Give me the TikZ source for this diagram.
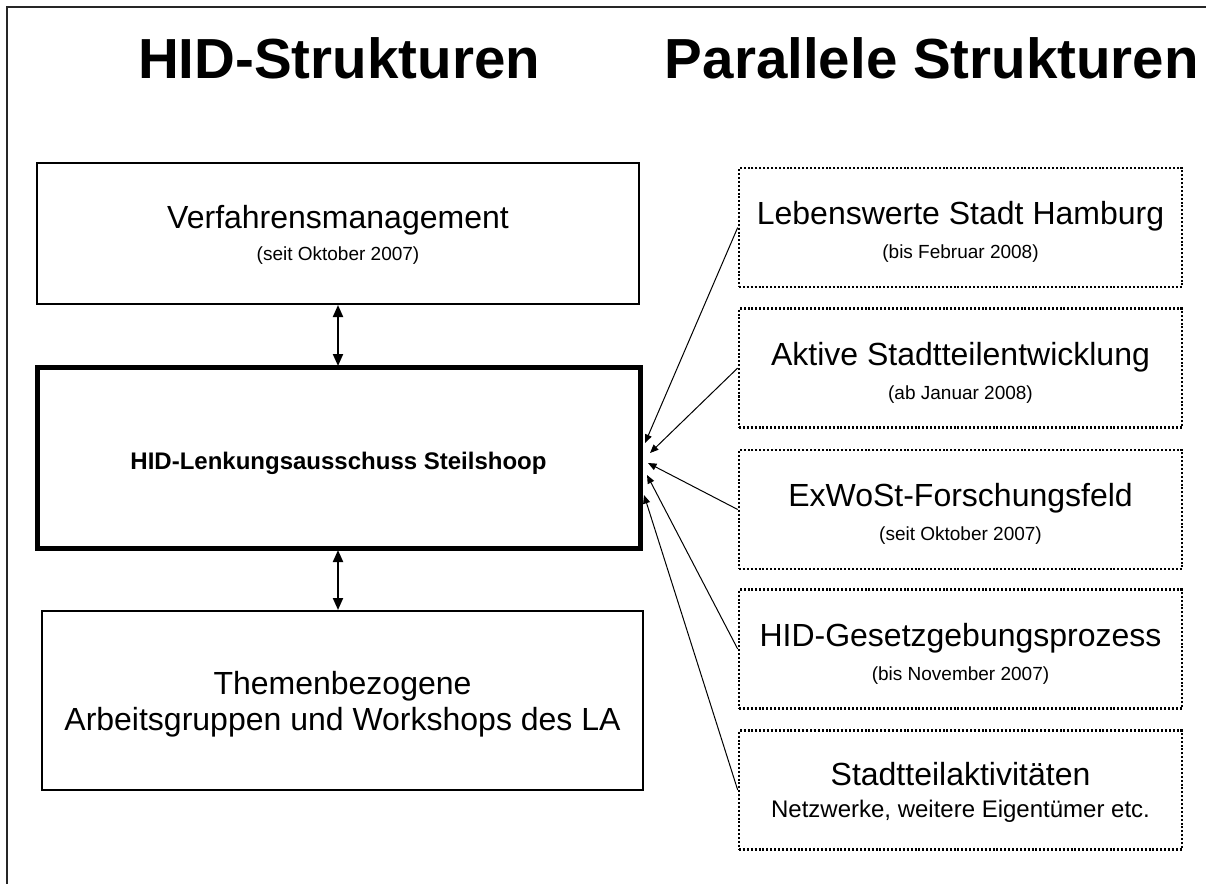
\documentclass[tikz,border=0pt]{standalone}
\usepackage{fontspec}
\setmainfont{Liberation Sans}
\usetikzlibrary{arrows.meta,calc}
\begin{document}
\begin{tikzpicture}[x=1pt,y=-1pt,
  titletext/.style={font=\bfseries\fontsize{56.5}{62}\selectfont, inner sep=0pt},
  bigtext/.style={font=\fontsize{32}{36}\selectfont, inner sep=0pt, anchor=base},
  smalltext/.style={font=\fontsize{19}{22}\selectfont, inner sep=0pt, anchor=base},
  midtext/.style={font=\fontsize{24}{28}\selectfont, inner sep=0pt, anchor=base},
  boldtext/.style={font=\bfseries\fontsize{24}{28}\selectfont, inner sep=0pt, anchor=base},
  solidbox/.style={draw=black, line width=2.5pt, minimum width=602pt, inner sep=0pt},
  thickbox/.style={draw=black, line width=5pt, minimum width=603pt, minimum height=181pt, inner sep=0pt},
  dotbox/.style={draw=black, line width=2.6pt, dash pattern=on 2pt off 1.9pt, minimum width=443pt, minimum height=119pt, inner sep=0pt},
  link/.style={draw=black, line width=1pt, -{Triangle[length=8.5pt,width=7pt]}},
  dlink/.style={draw=black, line width=2pt, {Triangle[length=12pt,width=10pt]}-{Triangle[length=12pt,width=10pt]}}
]
\useasboundingbox (0,0) rectangle (1206,883);
\fill[white] (0,0) rectangle (1206,883);
\draw[line width=1.5pt, black!85] (7,884) -- (7,7) -- (1207,7);

% titles
\node[titletext, anchor=base west] (t1) at (138,78) {HID-Strukturen};
\node[titletext, anchor=base east] (t2) at (1199,78) {Parallele Strukturen};

% left column
\node[solidbox, minimum height=141pt] (vm) at (338,233.5) {};
\node[bigtext] (vm1) at ($(vm.center)+(0,-5)$) {Verfahrensmanagement};
\node[smalltext] (vm2) at ($(vm.center)+(0,27)$) {(seit Oktober 2007)};

\node[thickbox] (la) at (338.5,457.5) {};
\node[boldtext] (la1) at ($(la.center)+(0,12)$) {HID-Lenkungsausschuss Steilshoop};

\node[solidbox, minimum height=179pt, minimum width=601pt] (ag) at (342.5,700.5) {};
\node[bigtext] (ag1) at ($(ag.center)+(0,-6)$) {Themenbezogene};
\node[bigtext] (ag2) at ($(ag.center)+(0,30)$) {Arbeitsgruppen und Workshops des LA};

\draw[dlink] (338,305) coordinate (vmb) -- (338,366) coordinate (lat);
\draw[dlink] (338,550) coordinate (lab) -- (338,610) coordinate (agt);

% right column
\node[dotbox] (pa) at (960.5,227.5) {};
\node[bigtext] (pa1) at ($(pa.center)+(0,-3)$) {Lebenswerte Stadt Hamburg};
\node[smalltext] (pa2) at ($(pa.center)+(0,31)$) {(bis Februar 2008)};

\node[dotbox] (pb) at (960.5,368) {};
\node[bigtext] (pb1) at ($(pb.center)+(0,-3)$) {Aktive Stadtteilentwicklung};
\node[smalltext] (pb2) at ($(pb.center)+(0,31)$) {(ab Januar 2008)};

\node[dotbox] (pc) at (960.5,509.5) {};
\node[bigtext] (pc1) at ($(pc.center)+(0,-3)$) {ExWoSt-Forschungsfeld};
\node[smalltext] (pc2) at ($(pc.center)+(0,31)$) {(seit Oktober 2007)};

\node[dotbox] (pd) at (960.5,649) {};
\node[bigtext] (pd1) at ($(pd.center)+(0,-3)$) {HID-Gesetzgebungsprozess};
\node[smalltext] (pd2) at ($(pd.center)+(0,31)$) {(bis November 2007)};

\node[dotbox] (pe) at (960.5,790) {};
\node[bigtext] (pe1) at ($(pe.center)+(0,-5)$) {Stadtteilaktivitäten};
\node[midtext] (pe2) at ($(pe.center)+(0,27)$) {Netzwerke, weitere Eigentümer etc.};

% arrow targets
\coordinate (ta) at (645,443);
\coordinate (tb) at (650,453);
\coordinate (tc) at (648,463);
\coordinate (td) at (647,475);
\coordinate (te) at (644,495);

\draw[link] (pa.west) -- (ta);
\draw[link] (pb.west) -- (tb);
\draw[link] (pc.west) -- (tc);
\draw[link] (pd.west) -- (td);
\draw[link] (pe.west) -- (te);
\end{tikzpicture}
\end{document}
